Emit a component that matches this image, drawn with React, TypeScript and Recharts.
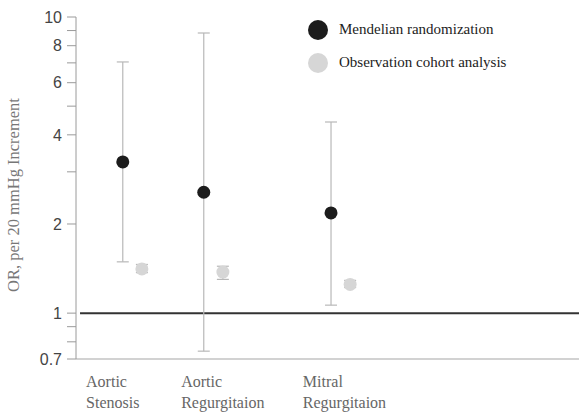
import {
  ErrorBar,
  ReferenceLine,
  Scatter,
  ScatterChart,
  XAxis,
  YAxis,
} from "recharts";

// outcomes and where each group sits along the x scale
const categories = ["Aortic Stenosis", "Aortic Regurgitaion", "Mitral Regurgitaion"];
const categoryX = [0.93, 2.54, 5.07];
const labelX = [0.2, 2.09, 4.51];
const obsOffset = 0.38;

// odds ratios with 95% CI
const mrOR = [3.24, 2.56, 2.18];
const mrLow = [1.49, 0.744, 1.064];
const mrHigh = [7.05, 8.83, 4.42];

const obsOR = [1.41, 1.376, 1.25];
const obsLow = [1.37, 1.3, 1.22];
const obsHigh = [1.46, 1.44, 1.29];

const yTicks = [0.7, 0.8, 0.9, 1, 2, 3, 4, 5, 6, 7, 8, 9, 10];
const yLabeled = [0.7, 1, 2, 4, 6, 8, 10];

const MR_COLOR = "#1c1c1c";
const OBS_COLOR = "#d6d6d6";
const SERIF = '"Liberation Serif", "Times New Roman", serif';

const mrData = categories.map((name, i) => ({
  name,
  x: categoryX[i],
  y: mrOR[i],
  err: [mrOR[i] - mrLow[i], mrHigh[i] - mrOR[i]],
}));

const obsData = categories.map((name, i) => ({
  name,
  x: categoryX[i] + obsOffset,
  y: obsOR[i],
  err: [obsOR[i] - obsLow[i], obsHigh[i] - obsOR[i]],
}));

const legendItems = [
  { label: "Mendelian randomization", color: MR_COLOR },
  { label: "Observation cohort analysis", color: OBS_COLOR },
];

function CategoryTick(props: any) {
  const { x, y, index } = props;
  const words = categories[index].split(" ");
  return (
    <text
      x={x}
      y={y}
      textAnchor="start"
      fontFamily={SERIF}
      fontSize={16}
      fill="#666"
    >
      {words.map((w, i) => (
        <tspan key={w} x={x} dy={i === 0 ? 20 : 21}>
          {w}
        </tspan>
      ))}
    </text>
  );
}

function Dot(color: string) {
  return (props: any) => (
    <circle cx={props.cx} cy={props.cy} r={6.5} fill={color} />
  );
}

function LegendBox() {
  return (
    <div
      style={{
        position: "absolute",
        left: 308,
        top: 13,
        fontFamily: SERIF,
        fontSize: 15,
        color: "#222",
      }}
    >
      {legendItems.map((item) => (
        <div
          key={item.label}
          style={{ display: "flex", alignItems: "center", height: 33 }}
        >
          <span
            style={{
              width: 20,
              height: 20,
              borderRadius: 999,
              backgroundColor: item.color,
              marginRight: 11,
            }}
          />
          {item.label}
        </div>
      ))}
    </div>
  );
}

export default function App() {
  return (
    <div style={{ position: "absolute", left: 0, top: 0, background: "#fff" }}>
      <ScatterChart
        width={579}
        height={415}
        margin={{ top: 17, right: 0, bottom: 0, left: 0 }}
      >
        <XAxis
          type="number"
          dataKey="x"
          domain={[0, 10]}
          ticks={labelX}
          tick={<CategoryTick />}
          tickLine={false}
          axisLine={{ stroke: "#d2d2d2", strokeWidth: 2 }}
          height={56}
          interval={0}
        />
        <YAxis
          type="number"
          dataKey="y"
          scale="log"
          domain={[0.7, 10]}
          allowDataOverflow
          ticks={yTicks}
          interval={0}
          width={76}
          tickSize={9}
          tickMargin={5}
          tickLine={{ stroke: "#9a9a9a" }}
          axisLine={{ stroke: "#9a9a9a" }}
          tick={{ fontSize: 16, fill: "#444", fontFamily: '"Liberation Sans", Arial, sans-serif' }}
          tickFormatter={(v: number) => (yLabeled.includes(v) ? String(v) : "")}
          label={({ viewBox }: any) => (
            <text
              x={viewBox.x + 19}
              y={viewBox.y + viewBox.height / 2 + 7}
              transform={`rotate(-90, ${viewBox.x + 19}, ${viewBox.y + viewBox.height / 2 + 7})`}
              textAnchor="middle"
              fontFamily={SERIF}
              fontSize={16.5}
              fill="#777"
            >
              OR, per 20 mmHg Increment
            </text>
          )}
        />
        <ReferenceLine
          segment={[
            { x: 0.08, y: 1 },
            { x: 10, y: 1 },
          ]}
          stroke="#333"
          strokeWidth={2}
        />
        <Scatter
          name="Mendelian randomization"
          data={mrData}
          shape={Dot(MR_COLOR)}
          isAnimationActive={false}
        >
          <ErrorBar dataKey="err" direction="y" width={6} stroke="#b8b8b8" strokeWidth={1.2} />
        </Scatter>
        <Scatter
          name="Observation cohort analysis"
          data={obsData}
          shape={Dot(OBS_COLOR)}
          isAnimationActive={false}
        >
          <ErrorBar dataKey="err" direction="y" width={6} stroke="#b8b8b8" strokeWidth={1.2} />
        </Scatter>
      </ScatterChart>
      <LegendBox />
    </div>
  );
}
